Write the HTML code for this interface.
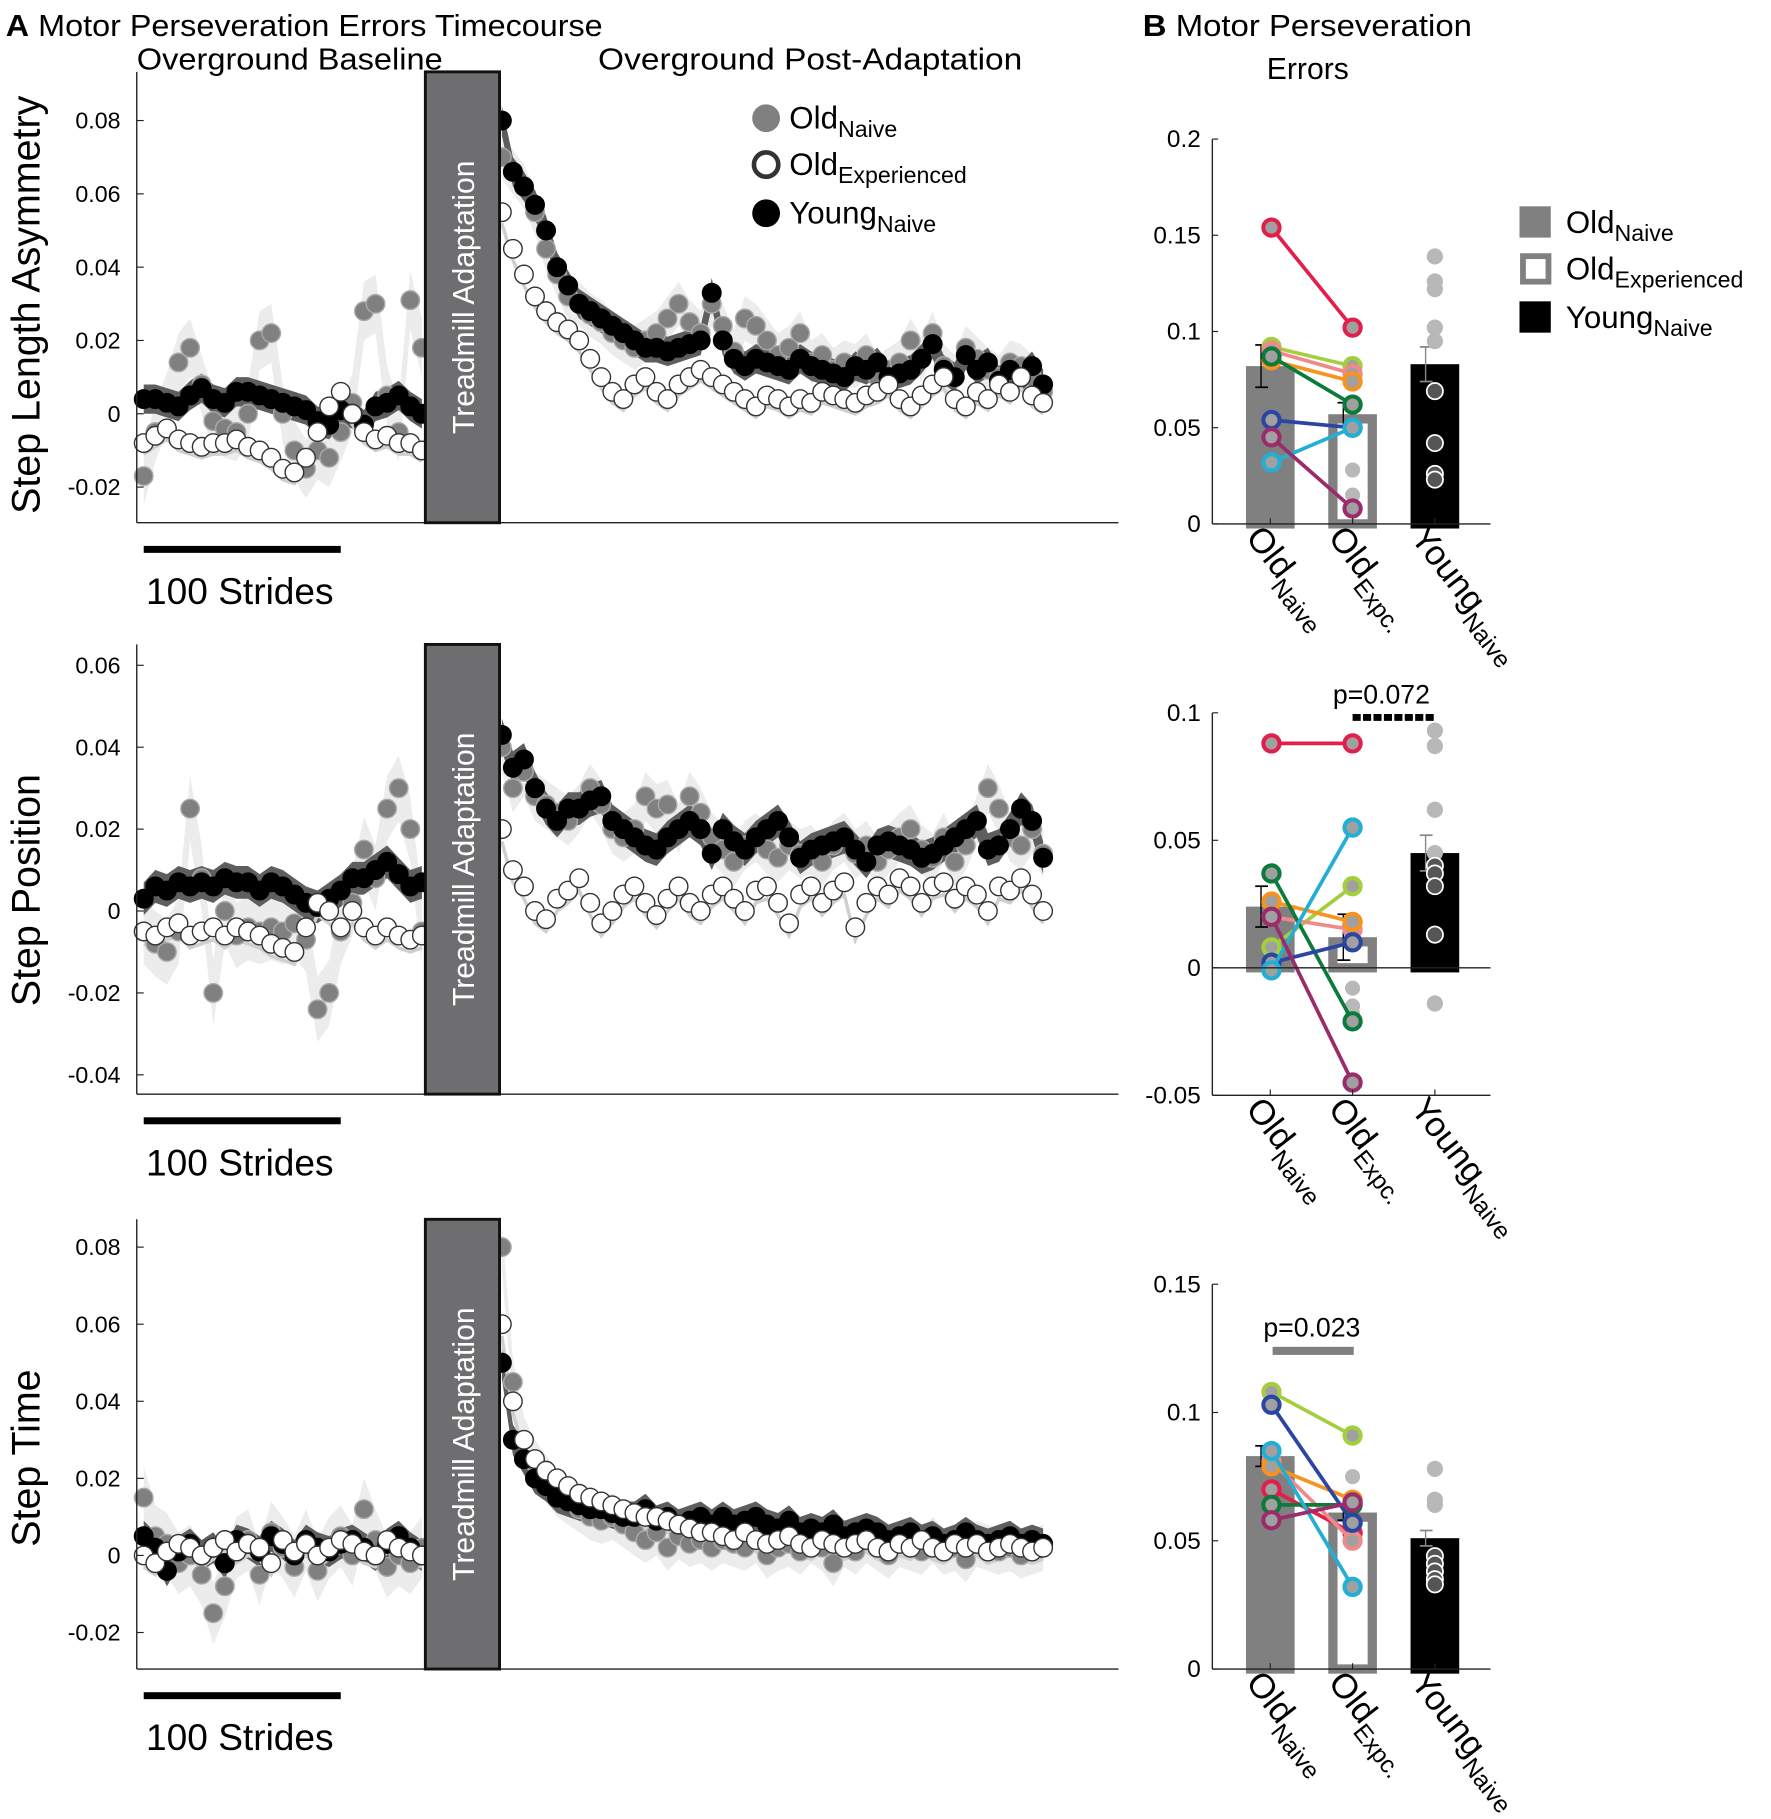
<!DOCTYPE html>
<html><head><meta charset="utf-8">
<style>
html,body{margin:0;padding:0;background:#fff;}
svg{display:block;font-family:"Liberation Sans","DejaVu Sans",sans-serif;}
</style></head>
<body>
<svg id="fig" width="1771" height="1819" viewBox="0 0 1528 1569.4" preserveAspectRatio="none" xmlns="http://www.w3.org/2000/svg">
<text x="5" y="31" font-size="26" textLength="515" lengthAdjust="spacingAndGlyphs"><tspan font-weight="bold">A</tspan> Motor Perseveration Errors Timecourse</text>
<text x="118" y="60" font-size="26" textLength="264" lengthAdjust="spacingAndGlyphs">Overground Baseline</text>
<text x="516" y="60" font-size="26" textLength="366" lengthAdjust="spacingAndGlyphs">Overground Post-Adaptation</text>
<text x="986" y="31" font-size="26" textLength="284" lengthAdjust="spacingAndGlyphs"><tspan font-weight="bold">B</tspan> Motor Perseveration</text>
<text x="1093" y="68" font-size="26">Errors</text>
<g id="legA">
 <circle cx="661" cy="102" r="12" fill="#808080"/>
 <text x="681" y="111" font-size="27">Old<tspan font-size="20" dy="7">Naive</tspan></text>
 <circle cx="661" cy="142" r="10.5" fill="#fff" stroke="#333" stroke-width="4"/>
 <text x="681" y="151" font-size="27">Old<tspan font-size="20" dy="7">Experienced</tspan></text>
 <circle cx="661" cy="184" r="12" fill="#000"/>
 <text x="681" y="193" font-size="27">Young<tspan font-size="20" dy="7">Naive</tspan></text>
</g>
<g id="legB">
 <rect x="1311" y="178" width="27" height="27" fill="#808080"/>
 <text x="1351" y="201" font-size="27">Old<tspan font-size="20" dy="7">Naive</tspan></text>
 <rect x="1314" y="221" width="22" height="22" fill="#fff" stroke="#808080" stroke-width="5"/>
 <text x="1351" y="241" font-size="27">Old<tspan font-size="20" dy="7">Experienced</tspan></text>
 <rect x="1311" y="260" width="27" height="27" fill="#000"/>
 <text x="1351" y="283" font-size="27">Young<tspan font-size="20" dy="7">Naive</tspan></text>
</g>
</svg>
<script>
// ===== Panel A data (time courses) =====
const slaBaseYoung=[0.004,0.004,0.003,0.002,0.005,0.007,0.004,0.003,0.006,0.006,0.005,0.004,0.003,0.002,0.001,-0.002,-0.003,0.001,0.0,-0.003,0.002,0.003,0.005,0.002,0.0];
const slaBaseOldN=[-0.017,-0.005,0.003,0.014,0.018,0.008,-0.002,-0.004,-0.005,0.0,0.02,0.022,0.0,-0.01,-0.015,-0.01,-0.012,-0.005,0.003,0.028,0.03,0.005,-0.005,0.031,0.018];
const slaBaseOldE=[-0.008,-0.006,-0.004,-0.007,-0.008,-0.009,-0.008,-0.008,-0.007,-0.009,-0.010,-0.012,-0.015,-0.016,-0.012,-0.005,0.002,0.006,0.0,-0.005,-0.007,-0.006,-0.008,-0.008,-0.010];
const slaPostYoung=[0.08,0.066,0.062,0.057,0.050,0.040,0.035,0.030,0.028,0.026,0.024,0.022,0.020,0.018,0.018,0.017,0.018,0.019,0.020,0.033,0.020,0.015,0.013,0.015,0.014,0.013,0.012,0.015,0.013,0.012,0.011,0.010,0.013,0.012,0.014,0.010,0.011,0.012,0.015,0.019,0.012,0.010,0.016,0.012,0.014,0.009,0.012,0.010,0.013,0.008];
const slaPostOldN=[0.07,0.066,0.062,0.055,0.045,0.038,0.032,0.030,0.027,0.025,0.022,0.020,0.018,0.020,0.022,0.026,0.030,0.025,0.022,0.030,0.024,0.017,0.026,0.024,0.020,0.016,0.018,0.022,0.014,0.016,0.012,0.014,0.013,0.016,0.010,0.012,0.014,0.020,0.015,0.022,0.013,0.010,0.018,0.015,0.012,0.010,0.014,0.013,0.010,0.006];
const slaPostOldE=[0.055,0.045,0.038,0.032,0.028,0.025,0.023,0.020,0.015,0.010,0.006,0.004,0.008,0.010,0.006,0.004,0.008,0.010,0.012,0.010,0.008,0.006,0.004,0.002,0.005,0.004,0.002,0.004,0.003,0.006,0.005,0.004,0.003,0.005,0.006,0.008,0.004,0.002,0.005,0.008,0.010,0.004,0.002,0.006,0.004,0.008,0.006,0.010,0.005,0.003];
const slaTicks=[0.08,0.06,0.04,0.02,0,-0.02];

const spBaseYoung=[0.003,0.006,0.005,0.007,0.006,0.007,0.006,0.008,0.007,0.007,0.005,0.007,0.006,0.004,0.002,0.001,0.003,0.005,0.008,0.008,0.010,0.012,0.009,0.006,0.007];
const spBaseOldN=[-0.005,-0.008,-0.01,-0.005,0.025,0.008,-0.02,0.0,-0.006,-0.004,-0.005,-0.004,-0.005,-0.003,-0.007,-0.024,-0.02,-0.005,0.002,0.015,0.008,0.025,0.030,0.020,-0.005];
const spBaseOldE=[-0.005,-0.006,-0.004,-0.003,-0.006,-0.005,-0.004,-0.006,-0.004,-0.005,-0.006,-0.008,-0.009,-0.010,-0.004,0.002,0.0,-0.004,0.0,-0.004,-0.006,-0.004,-0.006,-0.007,-0.006];
const spPostYoung=[0.043,0.035,0.037,0.030,0.025,0.022,0.025,0.025,0.027,0.028,0.022,0.020,0.018,0.016,0.015,0.018,0.020,0.022,0.020,0.014,0.020,0.017,0.015,0.018,0.020,0.022,0.018,0.013,0.015,0.016,0.017,0.018,0.015,0.012,0.016,0.017,0.016,0.015,0.013,0.014,0.016,0.018,0.020,0.022,0.015,0.016,0.020,0.025,0.022,0.013];
const spPostOldN=[0.04,0.030,0.034,0.028,0.026,0.024,0.022,0.025,0.030,0.026,0.020,0.018,0.020,0.028,0.025,0.026,0.020,0.028,0.024,0.018,0.015,0.012,0.016,0.018,0.015,0.013,0.016,0.014,0.015,0.012,0.016,0.018,0.014,0.016,0.012,0.015,0.018,0.020,0.015,0.013,0.018,0.012,0.016,0.022,0.030,0.025,0.018,0.016,0.020,0.014];
const spPostOldE=[0.020,0.010,0.006,0.0,-0.002,0.003,0.005,0.008,0.002,-0.003,0.0,0.004,0.006,0.002,-0.001,0.003,0.006,0.002,0.0,0.004,0.006,0.003,0.0,0.005,0.006,0.002,-0.003,0.004,0.006,0.002,0.005,0.007,-0.004,0.002,0.006,0.004,0.008,0.006,0.002,0.006,0.007,0.003,0.006,0.004,0.0,0.006,0.005,0.008,0.004,0.0];
const spTicks=[0.06,0.04,0.02,0,-0.02,-0.04];

const stBaseYoung=[0.005,0.002,-0.004,0.001,0.003,0.0,0.002,-0.002,0.004,0.003,0.001,0.005,0.003,0.0,0.004,0.002,0.001,0.003,0.004,0.002,0.0,0.003,0.005,0.002,0.0];
const stBaseOldN=[0.015,0.005,0.003,-0.002,0.0,-0.005,-0.015,-0.008,0.002,0.004,-0.005,0.006,0.002,-0.003,0.004,-0.004,0.002,0.005,0.0,0.012,0.004,-0.003,0.0,-0.002,0.002];
const stBaseOldE=[0.0,-0.002,0.001,0.003,0.002,0.0,0.002,0.004,0.001,0.003,0.002,-0.002,0.004,0.001,0.003,0.0,0.002,0.004,0.003,0.001,0.0,0.004,0.002,0.001,0.0];
const stPostYoung=[0.05,0.03,0.025,0.02,0.018,0.015,0.014,0.013,0.012,0.012,0.011,0.010,0.010,0.012,0.009,0.010,0.008,0.009,0.010,0.008,0.010,0.008,0.009,0.010,0.008,0.007,0.009,0.006,0.007,0.006,0.008,0.005,0.006,0.007,0.006,0.004,0.005,0.006,0.004,0.005,0.003,0.004,0.006,0.004,0.003,0.004,0.005,0.003,0.004,0.003];
const stPostOldN=[0.08,0.045,0.03,0.024,0.02,0.016,0.014,0.012,0.010,0.009,0.010,0.008,0.006,0.004,0.006,0.002,0.005,0.003,0.004,0.002,0.004,0.003,0.002,0.004,0.0,0.002,0.003,0.001,0.004,0.002,-0.002,0.003,0.001,0.004,0.002,0.0,0.003,0.002,0.001,0.004,0.001,0.002,-0.001,0.003,0.002,0.001,0.002,0.0,0.001,0.002];
const stPostOldE=[0.06,0.04,0.03,0.025,0.022,0.02,0.018,0.016,0.015,0.014,0.013,0.012,0.011,0.010,0.010,0.009,0.008,0.007,0.006,0.006,0.005,0.004,0.006,0.004,0.003,0.004,0.005,0.003,0.002,0.004,0.003,0.002,0.003,0.004,0.002,0.001,0.003,0.002,0.004,0.002,0.001,0.003,0.002,0.003,0.001,0.002,0.003,0.002,0.001,0.002];
const stTicks=[0.08,0.06,0.04,0.02,0,-0.02];

// ===== Panel B data =====
const groups=["Old","Old","Young"];
const groupSubs=["Naive","Expc.","Naive"];
const subjColors=["#e0204a","#a3cf3f","#f08a8a","#f79420","#0c7a3b","#2b46a0","#23aed5","#9b2c6c"];
const b1Bars=[0.082,0.057,0.083];
const b1Err=[0.011,0.006,0.009];
const b1Naive=[0.154,0.092,0.090,0.085,0.087,0.054,0.032,0.045];
const b1Exp=[0.102,0.082,0.078,0.074,0.062,0.050,0.050,0.008];
const b1ExpExtra=[0.028,0.015];
const b1Young=[0.139,0.126,0.122,0.102,0.095,0.069,0.042,0.026,0.023];
const b1Ticks=[0.2,0.15,0.1,0.05,0];
const b2Bars=[0.024,0.012,0.045];
const b2Err=[0.008,0.009,0.007];
const b2Naive=[0.088,0.008,0.020,0.026,0.037,0.002,-0.001,0.020];
const b2Exp=[0.088,0.032,0.015,0.018,-0.021,0.010,0.055,-0.045];
const b2ExpExtra=[-0.008,-0.015,-0.018];
const b2Young=[0.093,0.087,0.062,0.045,0.040,0.037,0.032,0.013,-0.014];
const b2Ticks=[0.1,0.05,0,-0.05];
const b3Bars=[0.083,0.061,0.051];
const b3Err=[0.004,0.003,0.003];
const b3Naive=[0.070,0.108,0.081,0.079,0.064,0.103,0.085,0.058];
const b3Exp=[0.053,0.091,0.050,0.066,0.064,0.057,0.032,0.065];
const b3ExpExtra=[0.075];
const b3Young=[0.078,0.066,0.064,0.044,0.041,0.038,0.035,0.033];
const b3Ticks=[0.15,0.1,0.05,0];

const NS="http://www.w3.org/2000/svg";
const svg=document.getElementById('fig');
function mk(tag,attrs,parent){const e=document.createElementNS(NS,tag);for(const k in attrs)e.setAttribute(k,attrs[k]);(parent||svg).appendChild(e);return e;}
function fmt(v){if(v===0)return "0";let s=String(+v.toFixed(3));return s;}

function timePanel(name,top,bot,v0,y0,pxPer,ticks,label,labelY,bY,bO,bE,pY,pO,pE){
  const g=mk('g',{});
  
  
  const y=v=>y0-v*pxPer;
  const xb=i=>124+i*(240/(bY.length-1));
  const xp=i=>433+i*(467/(pY.length-1));
  function band(arr,xf,w,fill){let up=[],dn=[];arr.forEach((v,i)=>{up.push(xf(i)+','+y(v+w));dn.unshift(xf(i)+','+y(v-w));});
    const p=mk('polygon',{points:up.concat(dn).join(' '),fill:fill},g);
    
    }
  band(bO,xb,0.008,'#ececec');band(pO,xp,0.006,'#ececec');
  band(bY,xb,0.004,'#5e5e5e');band(pY,xp,0.004,'#5e5e5e');
  function line(arr,xf){const l=mk('polyline',{points:arr.map((v,i)=>xf(i)+','+y(v-0.003)).join(' '),fill:'none',stroke:'#cfcfcf','stroke-width':3},g);
    
    }
  line(bE,xb);line(pE,xp);
  function dots(arr,xf,fill,stroke,nm){arr.forEach((v,i)=>{const c=mk('circle',{cx:xf(i),cy:y(v),r:8,fill:fill,stroke:stroke,'stroke-width':1.2},g);
    
    });}
  dots(bO,xb,'#808080','#aaa','old-naive-point');dots(pO,xp,'#808080','#aaa','old-naive-point');
  dots(bY,xb,'#000','#000','young-naive-point');dots(pY,xp,'#000','#000','young-naive-point');
  dots(bE,xb,'#fff','#333','old-experienced-point');dots(pE,xp,'#fff','#333','old-experienced-point');
  mk('line',{x1:118,y1:top,x2:118,y2:bot,stroke:'#222','stroke-width':1.2},g);
  mk('line',{x1:118,y1:bot,x2:965,y2:bot,stroke:'#222','stroke-width':1.2},g);
  ticks.forEach(t=>{mk('line',{x1:118,y1:y(t),x2:124,y2:y(t),stroke:'#222'},g);
    const tx=mk('text',{x:104,y:y(t)+7,'font-size':20,'text-anchor':'end'},g);tx.textContent=fmt(t);
    
    });
  const r=mk('rect',{x:367,y:top,width:64,height:bot-top,fill:'#6e6e70',stroke:'#111','stroke-width':2.5},g);
  
  
  const tt=mk('text',{x:0,y:0,'font-size':26,fill:'#fff','text-anchor':'middle',transform:`translate(409,${(top+bot)/2}) rotate(-90)`},g);
  tt.textContent='Treadmill Adaptation';
  
  
  const yl=mk('text',{x:0,y:0,'font-size':34,'text-anchor':'middle',transform:`translate(34,${labelY}) rotate(-90)`},g);
  yl.textContent=label;
  
  
  const sb=mk('rect',{x:124,y:bot+20,width:170,height:6,fill:'#000'},g);
  
  
  const st=mk('text',{x:126,y:bot+70,'font-size':32},g);st.textContent='100 Strides';
  
  
}
timePanel('step-length-asymmetry-timecourse',62,451,0,357,253/0.08,slaTicks,'Step Length Asymmetry',263,slaBaseYoung,slaBaseOldN,slaBaseOldE,slaPostYoung,slaPostOldN,slaPostOldE);
timePanel('step-position-timecourse',556,944,0,786,212/0.06,spTicks,'Step Position',768,spBaseYoung,spBaseOldN,spBaseOldE,spPostYoung,spPostOldN,spPostOldE);
timePanel('step-time-timecourse',1052,1440,0,1342,266/0.08,stTicks,'Step Time',1258,stBaseYoung,stBaseOldN,stBaseOldE,stPostYoung,stPostOldN,stPostOldE);

function barPanel(name,top,bot,y0,pxPer,ticks,bars,errs,nv,ex,exExtra,yg){
  const g=mk('g',{});
  
  
  const y=v=>y0-v*pxPer;
  const cx=[1096,1167,1238];
  const b0=mk('rect',{x:cx[0]-21,y:y(bars[0]),width:42,height:y(0)-y(bars[0])+4,fill:'#808080'},g);
  
  
  const b1=mk('rect',{x:cx[1]-17,y:y(bars[1])+4,width:34,height:y(0)-y(bars[1])-4,fill:'#fff',stroke:'#808080','stroke-width':8},g);
  
  
  const b2=mk('rect',{x:cx[2]-21,y:y(bars[2]),width:42,height:y(0)-y(bars[2])+4,fill:'#000'},g);
  
  
  bars.forEach((b,i)=>{const col=i==2?'#888':'#000';const ex0=cx[i]-8;
    mk('line',{x1:ex0,y1:y(b-errs[i]),x2:ex0,y2:y(b+errs[i]),stroke:col,'stroke-width':1.2},g);
    mk('line',{x1:ex0-5,y1:y(b+errs[i]),x2:ex0+6,y2:y(b+errs[i]),stroke:col,'stroke-width':1.5},g);
    mk('line',{x1:ex0-5,y1:y(b-errs[i]),x2:ex0+6,y2:y(b-errs[i]),stroke:col,'stroke-width':1.5},g);});
  exExtra.forEach(v=>{const c=mk('circle',{cx:cx[1],cy:y(v),r:6.5,fill:'#b8b8b8'},g);
    
    });
  yg.forEach(v=>{const inside=v<bars[2]&&v>0;const c=mk('circle',{cx:cx[2],cy:y(v),r:7,fill:inside?'#555':'#b8b8b8',stroke:inside?'#fff':'none','stroke-width':1.5},g);
    
    });
  nv.forEach((v,i)=>{const col=subjColors[i];
    const l=mk('line',{x1:cx[0]+1,y1:y(v),x2:cx[1],y2:y(ex[i]),stroke:col,'stroke-width':3.2},g);
    
    
    [[cx[0]+1,v],[cx[1],ex[i]]].forEach(p=>{const c=mk('circle',{cx:p[0],cy:y(p[1]),r:7,fill:'#a0a0a0',stroke:col,'stroke-width':3.5},g);
      
      });});
  mk('line',{x1:1046,y1:top,x2:1046,y2:bot,stroke:'#222','stroke-width':1.2},g);
  mk('line',{x1:1046,y1:y(0),x2:1286,y2:y(0),stroke:'#222','stroke-width':1.2},g);
  if(bot!==y(0))mk('line',{x1:1046,y1:bot,x2:1286,y2:bot,stroke:'#222','stroke-width':1.2},g);
  cx.forEach(c=>mk('line',{x1:c,y1:bot,x2:c,y2:bot-5,stroke:'#222'},g));
  ticks.forEach(t=>{mk('line',{x1:1046,y1:y(t),x2:1051,y2:y(t),stroke:'#222'},g);
    const tx=mk('text',{x:1036,y:y(t)+7,'font-size':21,'text-anchor':'end'},g);tx.textContent=fmt(t);
    
    });
  groups.forEach((gname,i)=>{const tx=mk('text',{x:0,y:0,'font-size':30,transform:`translate(${cx[i]-22},${bot+12}) rotate(52)`},g);
    tx.innerHTML=gname+'<tspan font-size="21" dy="9">'+groupSubs[i]+'</tspan>';
    
    });
  return y;
}
barPanel('errors-step-length-asymmetry',120,452,452,332/0.2,b1Ticks,b1Bars,b1Err,b1Naive,b1Exp,b1ExpExtra,b1Young);
barPanel('errors-step-position',615,945,835,220/0.1,b2Ticks,b2Bars,b2Err,b2Naive,b2Exp,b2ExpExtra,b2Young);
barPanel('errors-step-time',1108,1440,1440,332/0.15,b3Ticks,b3Bars,b3Err,b3Naive,b3Exp,b3ExpExtra,b3Young);
const s1=mk('line',{x1:1167,y1:619,x2:1238,y2:619,stroke:'#000','stroke-width':6,'stroke-dasharray':'7,2'});


const p1=mk('text',{x:1150,y:607,'font-size':23});p1.textContent='p=0.072';


const s2=mk('rect',{x:1098,y:1162,width:70,height:7,fill:'#808080'});


const p2=mk('text',{x:1090,y:1153,'font-size':23});p2.textContent='p=0.023';


</script>
</body></html>
